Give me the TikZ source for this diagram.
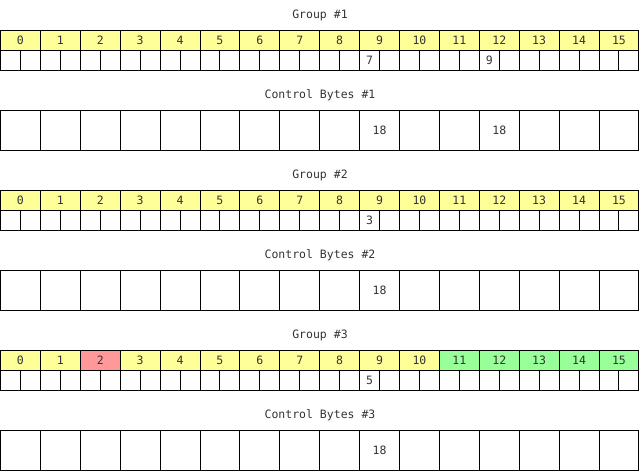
\documentclass[tikz,border=0pt]{standalone}
\usepackage{fontspec}
\setmonofont{DejaVu Sans Mono}
\definecolor{hdryellow}{HTML}{FFFF99}
\definecolor{hdrred}{HTML}{FF9999}
\definecolor{hdrgreen}{HTML}{99FF99}
\definecolor{txtgray}{HTML}{333333}
\begin{document}
\begin{tikzpicture}[x=1pt,y=-1pt,
  base/.style={draw=black, line width=1pt, inner sep=0pt, outer sep=0pt, anchor=north west,
    font=\ttfamily\fontsize{11.5}{13}\selectfont, text=txtgray},
  hdr/.style={base, fill=hdryellow, minimum width=39.9pt, minimum height=20pt},
  subcell/.style={base, minimum width=19.95pt, minimum height=20pt},
  ctl/.style={base, minimum width=39.9pt, minimum height=40pt},
  title/.style={font=\ttfamily\fontsize{11.5}{13}\selectfont, text=txtgray, inner sep=0pt}]
\useasboundingbox (0,0) rectangle (641,472);
% ---------- titles ----------
\node[title] (t1) at (320,15) {Group \#1};
\node[title] (t2) at (320,95) {Control Bytes \#1};
\node[title] (t3) at (320,175) {Group \#2};
\node[title] (t4) at (320,255) {Control Bytes \#2};
\node[title] (t5) at (320,335) {Group \#3};
\node[title] (t6) at (320,415) {Control Bytes \#3};
% ---------- groups ----------
\foreach \g/\y in {1/30,2/190,3/350}{
  \foreach \i in {0,...,15}{
    \node[hdr] (g\g h\i) at ({0.5+39.9*\i},{\y+0.5}) {\i};
  }
  \foreach \j in {0,...,31}{
    \node[subcell] (g\g s\j) at ({0.5+19.95*\j},{\y+20.5}) {};
  }
}
% special colours in group 3
\node[hdr, fill=hdrred] (g3h2x) at ({0.5+39.9*2},350.5) {2};
\foreach \i in {11,...,15}{
  \node[hdr, fill=hdrgreen] (g3h\i x) at ({0.5+39.9*\i},350.5) {\i};
}
% sub-cell values
\node[base, draw=none] (v1a) at (g1s18.center) [anchor=center] {7};
\node[base, draw=none] (v1b) at (g1s24.center) [anchor=center] {9};
\node[base, draw=none] (v2a) at (g2s18.center) [anchor=center] {3};
\node[base, draw=none] (v3a) at (g3s18.center) [anchor=center] {5};
% ---------- control bytes ----------
\foreach \c/\y in {1/110,2/270,3/430}{
  \foreach \i in {0,...,15}{
    \node[ctl] (c\c k\i) at ({0.5+39.9*\i},{\y+0.5}) {};
  }
}
\node[base, draw=none] (cv1a) at (c1k9.center) [anchor=center] {18};
\node[base, draw=none] (cv1b) at (c1k12.center) [anchor=center] {18};
\node[base, draw=none] (cv2a) at (c2k9.center) [anchor=center] {18};
\node[base, draw=none] (cv3a) at (c3k9.center) [anchor=center] {18};
\end{tikzpicture}
\end{document}
